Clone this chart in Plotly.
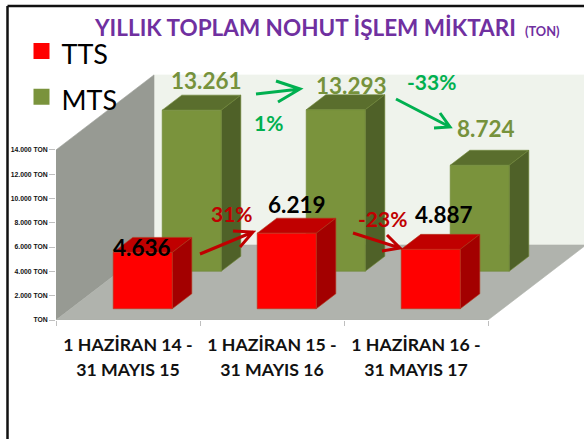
import plotly.graph_objects as go

# ---- data ----
categories = ["1 HAZİRAN 14 -<br>31 MAYIS 15", "1 HAZİRAN 15 -<br>31 MAYIS 16", "1 HAZİRAN 16 -<br>31 MAYIS 17"]
tts_values = [4636, 6219, 4887]
mts_values = [13261, 13293, 8724]
tts_labels = ["4.636", "6.219", "4.887"]
mts_labels = ["13.261", "13.293", "8.724"]
y_tick_values = [0, 2000, 4000, 6000, 8000, 10000, 12000, 14000]
y_tick_labels = ["TON", "2.000 TON", "4.000 TON", "6.000 TON", "8.000 TON", "10.000 TON", "12.000 TON", "14.000 TON"]

# ---- geometry of the oblique projection ----
W, H = 584, 439
L, FLOOR_PX = 56, 320
PX_PER_CAT = 144
PX_PER_VAL = 0.01215
DEPTH_X = 98 / PX_PER_CAT     # category units for full depth
DEPTH_Y = 75 / PX_PER_VAL     # value units for full depth
X_MAX = (W - L) / PX_PER_CAT
Y_MAX = FLOOR_PX / PX_PER_VAL
BAR_W = 0.41

def proj(x, v, d):
    return x + d * DEPTH_X, v + d * DEPTH_Y

def ax(px):
    return (px - L) / PX_PER_CAT

def ay(py):
    return (FLOOR_PX - py) / PX_PER_VAL

fig = go.Figure()

def face(points, color, line=None):
    xy = [proj(*p) for p in points]
    xs = [q[0] for q in xy] + [xy[0][0]]
    ys = [q[1] for q in xy] + [xy[0][1]]
    fig.add_trace(go.Scatter(x=xs, y=ys, mode="lines", fill="toself", fillcolor=color,
                             line=dict(color=line or color, width=0.6),
                             showlegend=False, hoverinfo="skip"))

# walls and floor
TOP = y_tick_values[-1]
N = len(categories)
face([(0, 0, 1), (N, 0, 1), (N, TOP, 1), (0, TOP, 1)], "#EFF3EC")
face([(0, 0, 0), (0, 0, 1), (0, TOP, 1), (0, TOP, 0)], "#979A93")
face([(0, 0, 0), (N, 0, 0), (N, 0, 1), (0, 0, 1)], "#B0B3AD")

def bar(i, v, d0, d1, front, top, side, edge):
    x0, x1 = i + 0.5 - BAR_W / 2, i + 0.5 + BAR_W / 2
    face([(x0, v, d0), (x1, v, d0), (x1, v, d1), (x0, v, d1)], top, edge)
    face([(x1, 0, d0), (x1, 0, d1), (x1, v, d1), (x1, v, d0)], side, edge)
    face([(x0, 0, d0), (x1, 0, d0), (x1, v, d0), (x0, v, d0)], front, edge)

for i, v in enumerate(mts_values):
    bar(i, v, 0.65, 0.85, "#7A933C", "#5A6E2D", "#4F6128", "#6F8736")
for i, v in enumerate(tts_values):
    bar(i, v, 0.15, 0.35, "#FF0000", "#C00000", "#A30000", "#B5391E")

# legend entries
LEG = '<span style="font-size:27px">%s</span>'
fig.add_trace(go.Scatter(x=[None], y=[None], mode="markers", name=LEG % "TTS",
                         marker=dict(symbol="square", size=16, color="#FF0000")))
fig.add_trace(go.Scatter(x=[None], y=[None], mode="markers", name=LEG % "MTS",
                         marker=dict(symbol="square", size=16, color="#7A933C")))

FONT = "Lato"
GREEN_TXT, BLACK = "#76923C", "#000000"
ARROW_G, ARROW_R = "#00B050", "#C00000"

def label(text, px, py, size, color):
    fig.add_annotation(x=ax(px), y=ay(py), xref="x", yref="y", text=f"<b>{text}</b>", showarrow=False,
                       font=dict(family=FONT, size=size, color=color), xanchor="center", yanchor="middle")

for t, p in zip(mts_labels, [(206, 80), (351, 85), (486, 128)]):
    label(t, p[0], p[1], 22.5, GREEN_TXT)
for t, p in zip(tts_labels, [(142, 247), (297, 204), (444, 214)]):
    label(t, p[0], p[1], 22.5, BLACK)
label("1%", 268, 122, 21, ARROW_G)
label("-33%", 431, 81, 21, ARROW_G)
label("31%", 232, 213, 21, ARROW_R)
label("-23%", 382, 218, 21, ARROW_R)

def arrow(tail, tip, b1, b2, color):
    pts = lambda p: f"{ax(p[0])},{ay(p[1])}"
    path = f"M{pts(tail)} L{pts(tip)} M{pts(b1)} L{pts(tip)} L{pts(b2)}"
    fig.add_shape(type="path", path=path, xref="x", yref="y", line=dict(color=color, width=3))

arrow((256, 94), (300, 89), (276, 81), (278, 102), ARROW_G)
arrow((396, 99), (450, 127), (440, 113), (434, 128), ARROW_G)
arrow((200, 254), (253, 232), (233, 231), (240, 247), ARROW_R)
arrow((353, 233), (400, 248), (387, 235), (382, 251), ARROW_R)

# outer frame (top and left border)
PH = FLOOR_PX
fx = (7.5 - L) / (W - L)
fy = (PH - 6) / PH
fig.add_shape(type="line", xref="paper", yref="paper", x0=fx, x1=1, y0=fy, y1=fy,
              line=dict(color="#111111", width=2.5))
fig.add_shape(type="line", xref="paper", yref="paper", x0=fx, x1=fx, y0=-(H - PH) / PH, y1=fy,
              line=dict(color="#111111", width=2.5))

cat_text = ["<br>".join(f'<span style="font-size:17.7px"><b>{part}</b></span>' for part in c.split("<br>")) for c in categories]

fig.update_layout(
    width=W, height=H, autosize=False,
    margin=dict(l=L, r=0, t=0, b=H - FLOOR_PX, autoexpand=False),
    paper_bgcolor="white", plot_bgcolor="white",
    title=dict(text='<b>YILLIK TOPLAM NOHUT İŞLEM MİKTARI</b> <span style="font-size:12.8px"> <b>(TON)</b></span>',
               xref="container", yref="container", x=95 / W, xanchor="left", y=1 - 28 / H, yanchor="middle",
               font=dict(family=FONT, size=22.5, color="#7030A0")),
    legend=dict(xref="container", yref="container", x=21.5 / W, y=1 - 23 / H, xanchor="left", yanchor="top",
                font=dict(family=FONT, size=33, color="#000000"), bgcolor="rgba(0,0,0,0)", itemwidth=30),
    xaxis=dict(range=[0, X_MAX], showgrid=False, zeroline=False, showline=False, automargin=False,
               tickmode="array", tickvals=[i + 0.5 for i in range(N)], ticktext=cat_text, ticks="",
               tickangle=0, ticklabelstandoff=11,
               tickfont=dict(family=FONT, size=19, color="#111111"),
               minor=dict(tickmode="array", tickvals=list(range(N + 1)), ticks="outside", ticklen=5, tickcolor="#BFBFBF", tickwidth=1)),
    yaxis=dict(range=[0, Y_MAX], showgrid=False, zeroline=False, showline=False, automargin=False,
               tickmode="array", tickvals=y_tick_values, ticktext=[f"<b>{t}</b>" for t in y_tick_labels],
               ticks="outside", ticklen=6, tickcolor="#BFBFBF",
               tickfont=dict(family="Liberation Sans", size=6.8, color="#111111")),
)

fig.write_html("out.html", config=dict(displayModeBar=False),
               post_script="document.body.style.margin='0';")
